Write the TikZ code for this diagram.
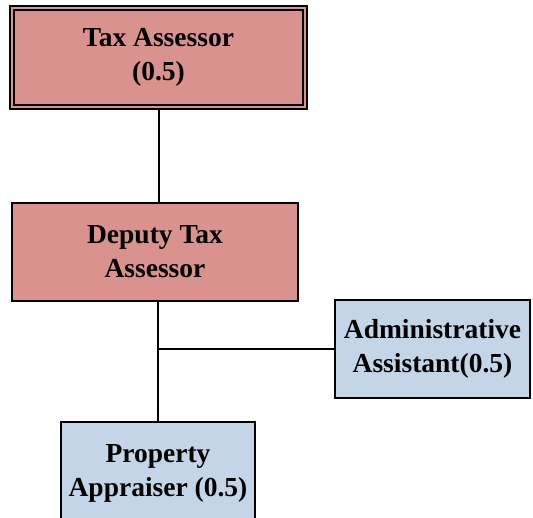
\documentclass[tikz,border=0pt]{standalone}
\usepackage{fontspec}
\setmainfont{Liberation Serif}
\definecolor{rosefill}{RGB}{217,146,141}
\definecolor{bluefill}{RGB}{197,213,232}
\begin{document}
\begin{tikzpicture}[x=1pt,y=-1pt,
  box/.style={draw=black, line width=2pt, align=center, inner sep=0pt,
    font=\fontsize{27.5}{34}\selectfont\bfseries},
  conn/.style={draw=black, line width=2pt}]
\useasboundingbox (0,0) rectangle (533,517);
\begin{scope}
\clip (0,0) rectangle (533,517);
% Tax Assessor (double border)
\node[box, fill=rosefill, minimum width=293pt, minimum height=99pt, double=rosefill, double distance=2.5pt, line width=1.6pt] (ta) at (158.5,57.5) {Tax Assessor\\(0.5)};
% Deputy
\node[box, fill=rosefill, minimum width=286pt, minimum height=98pt] (dta) at (155,252) {Deputy Tax\\Assessor};
% Admin
\node[box, fill=bluefill, minimum width=195pt, minimum height=98pt] (aa) at (432.5,349) {Administrative\\Assistant(0.5)};
% Property
\node[box, fill=bluefill, minimum width=194pt, minimum height=102pt] (pa) at (158,473) {Property\\Appraiser (0.5)};
\coordinate (j) at (157,349);
\draw[conn] (ta.south) -- (dta.north -| ta.south);
\draw[conn] (dta.south -| pa.north) -- (pa.north);
\draw[conn] (j) -- (aa.west);
\end{scope}
\end{tikzpicture}
\end{document}
